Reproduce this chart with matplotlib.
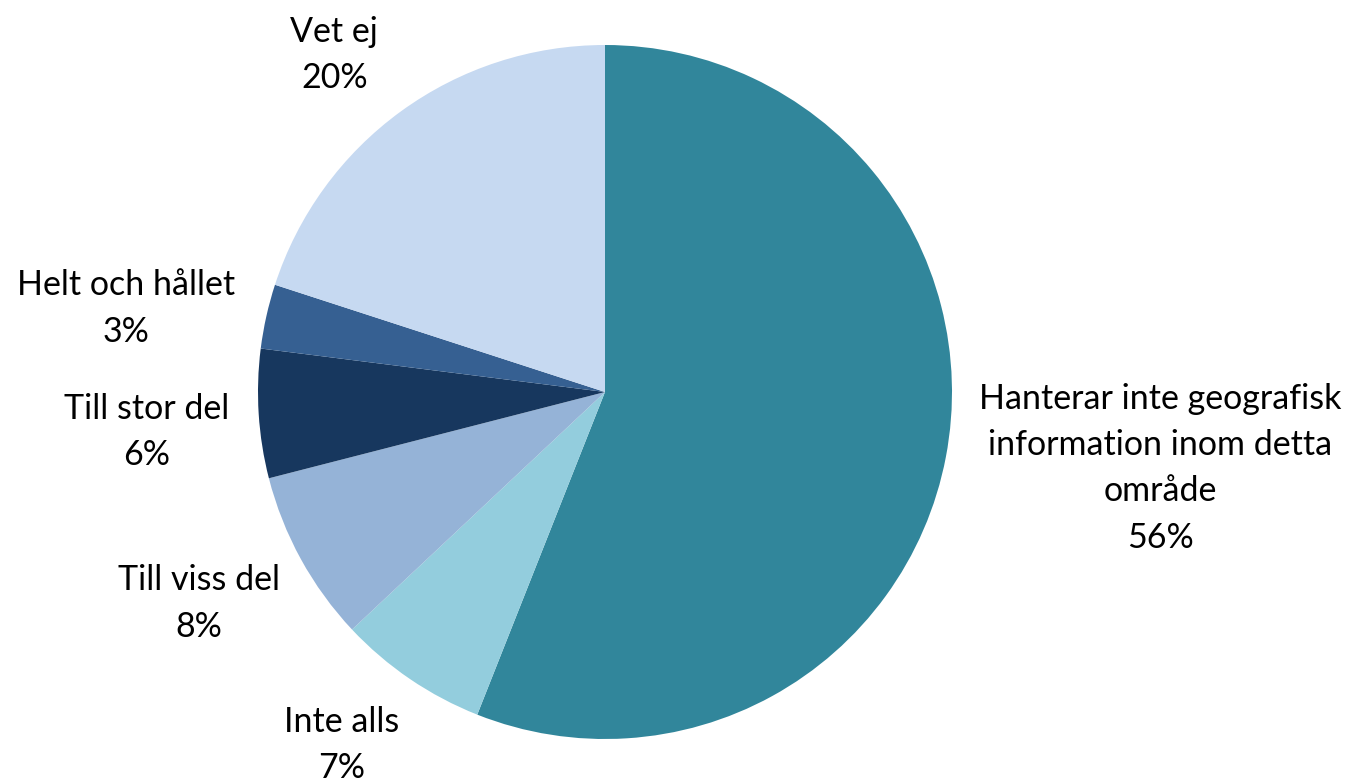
import numpy as np
import matplotlib.pyplot as plt

plt.rcParams['font.family'] = ['Lato', 'DejaVu Sans']

# slices in clockwise order starting at 12 o'clock
labels = ["Hanterar inte geografisk\ninformation inom detta\nområde", "Inte alls",
          "Till viss del", "Till stor del", "Helt och hållet", "Vet ej"]
values = [56, 7, 8, 6, 3, 20]
colors = ["#31869B", "#93CDDD", "#95B3D7", "#17375E", "#366092", "#C6D9F1"]

# label placement (distance from centre in radii, and angle offset in degrees)
label_dist = [1.615, 1.27, 1.32, 1.325, 1.40, 1.245]
label_shift = [3, -2.5, -1.3, 1.4, 2.7, 2.8]

fig = plt.figure(figsize=(13.46, 7.82), dpi=100)
ax = fig.add_axes([258 / 1346, 43 / 782, 694 / 1346, 694 / 782])

wedges, _ = ax.pie(values, colors=colors, startangle=90, counterclock=False,
                   wedgeprops=dict(linewidth=0))

for w, lab, v, d, s in zip(wedges, labels, values, label_dist, label_shift):
    ang = np.deg2rad((w.theta1 + w.theta2) / 2 + s)
    x, y = d * np.cos(ang), d * np.sin(ang)
    ax.text(x, y, f"{lab}\n{v}%", ha="center", va="center", fontsize=24.5,
            linespacing=1.55, color="black", clip_on=False)

ax.set_xlim(-1, 1)
ax.set_ylim(-1, 1)
ax.set_aspect("equal")
ax.axis("off")

fig.savefig("out.png", dpi=100, facecolor="white")
